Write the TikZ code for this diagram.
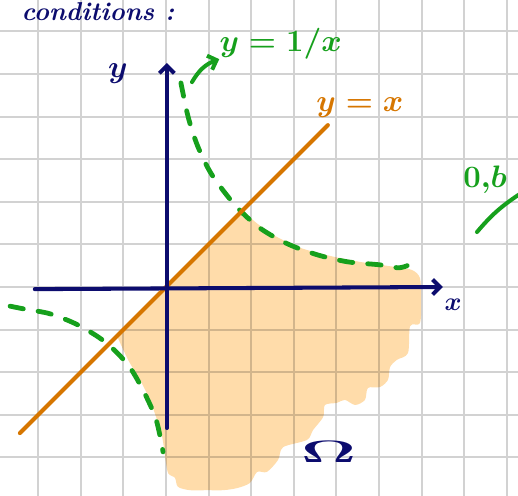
\documentclass[tikz,border=0pt]{standalone}
\usepackage{tikz}
\usetikzlibrary{arrows.meta}
\definecolor{inkblue}{RGB}{12,12,110}
\definecolor{inkgreen}{RGB}{22,160,28}
\definecolor{inkorange}{RGB}{214,118,0}
\definecolor{omegafill}{RGB}{255,220,170}
\definecolor{gridgray}{RGB}{210,210,210}

\begin{document}
\begin{tikzpicture}[
  axis/.style={draw=inkblue, line width=2.7pt, line cap=round},
  hyp/.style={draw=inkgreen, line width=3.2pt, line cap=round, dash pattern=on 9pt off 10pt},
  ink/.style={font=\huge\boldmath, inner sep=0pt},
  tip/.style={-{Straight Barb[length=5pt,width=10pt]}}
]
  \useasboundingbox (-3.897,-4.883) rectangle (8.263,6.737);

  % Grid paper
  \draw[gridgray, line width=1.3pt, step=1] (-3.9,-4.9) grid (8.27,6.74);

  % Region Omega
  \fill[omegafill, blend mode=multiply] plot[smooth] coordinates {
    (1.81,1.81) (2.09,1.53) (2.56,1.20) (3.15,0.92) (3.85,0.73) (4.55,0.59)
    (5.38,0.47) (5.77,0.40) (5.96,0.21) (5.99,-0.31) (5.96,-0.85) (5.73,-0.92)
    (5.68,-1.55) (5.42,-1.71) (5.26,-1.88) (5.21,-2.18) (5.02,-2.35) (4.74,-2.37)
    (4.67,-2.65) (4.44,-2.77) (4.20,-2.65) (4.01,-2.72) (3.73,-2.77) (3.69,-3.05)
    (3.45,-3.36) (3.31,-3.59) (2.75,-3.76) (2.63,-4.06) (2.37,-4.34) (2.14,-4.34)
    (1.97,-4.60) (1.67,-4.72) (1.34,-4.77) (0.96,-4.77) (0.56,-4.77) (0.28,-4.69)
    (0.21,-4.48) (0.05,-4.37) (-0.02,-3.99) (-0.09,-3.52) (-0.21,-3.12) (-0.38,-2.65)
    (-0.61,-2.18) (-0.89,-1.71) (-1.15,-1.15)} -- cycle;

  % Curve y = 1/x
  \draw[hyp] plot[smooth] coordinates {(0.35,4.79) (0.52,3.99) (0.75,3.29) (1.08,2.63)
    (1.64,1.90) (2.21,1.38) (2.86,1.01) (3.57,0.75) (4.27,0.59) (5.02,0.52) (5.45,0.45) (5.66,0.50)};
  \draw[hyp] plot[smooth] coordinates {(-3.66,-0.45) (-3.31,-0.52) (-2.72,-0.63) (-2.07,-0.89)
    (-1.43,-1.29) (-0.89,-1.83) (-0.52,-2.46) (-0.23,-3.12) (-0.07,-3.87)};

  % Line y = x
  \coordinate (diagA) at (-3.43,-3.43);
  \coordinate (diagB) at (3.80,3.80);
  \draw[inkorange, line width=2.7pt, line cap=round] (diagA) -- (diagB);
  \node[ink, text=inkorange] (lbldiag) at (4.55,4.20) {$y=x$};

  % Axes
  \coordinate (xstart) at (-3.08,-0.05);
  \coordinate (xend) at (6.5,0);
  \draw[axis, tip] (xstart) -- (xend);
  \coordinate (ystart) at (0.02,-3.31);
  \coordinate (yend) at (0.02,5.26);
  \draw[axis, tip] (ystart) -- (yend);
  \node[ink, text=inkblue, font=\LARGE\boldmath] (lblx) at (6.74,-0.42) {$x$};
  \node[ink, text=inkblue] (lbly) at (-1.13,5.02) {$y$};

  % Label of the curve
  \node[ink, text=inkgreen, anchor=west] (lblhyp) at (1.25,5.72) {$y=1/x$};
  \coordinate (hyppt) at (0.61,4.81);
  \draw[inkgreen, line width=2.7pt, line cap=round, tip] (hyppt) to[bend left=20] (lblhyp.south west);

  % Omega
  \node[ink, text=inkblue] (lblomega) at (3.82,-3.87) {\scalebox{2.2}[1]{$\Omega$}};

  % Notes
  \node[ink, text=inkblue, anchor=base east, font=\LARGE\bfseries\itshape] (lbltitle) at (0.2,6.25) {conditions :};
  \node[ink, text=inkgreen] (lblside) at (7.49,2.51) {$0{,}b$};
  \coordinate (sideA) at (7.30,1.29);
  \coordinate (sideB) at (8.30,2.18);
  \draw[inkgreen, line width=2.7pt, line cap=round] (sideA) to[bend left=8] (sideB);
\end{tikzpicture}
\end{document}
